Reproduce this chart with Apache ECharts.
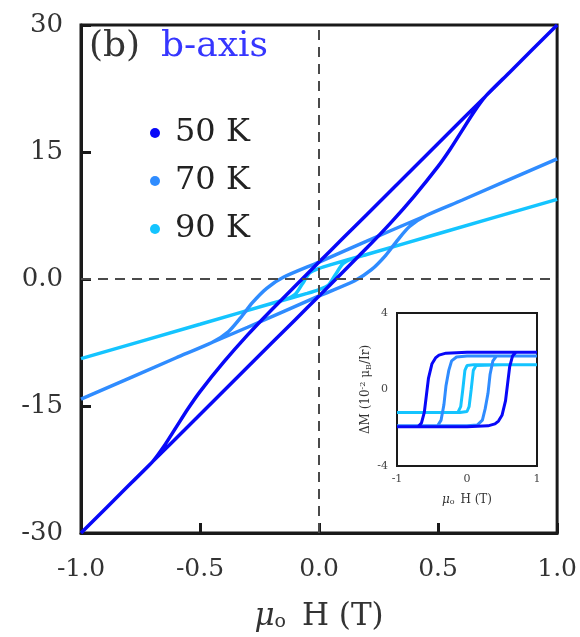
<!DOCTYPE html>
<html><head><meta charset="utf-8">
<script src="https://cdn.jsdelivr.net/npm/echarts@6/dist/echarts.min.js"></script>
<style>html,body{margin:0;padding:0;background:#fff}#c{width:580px;height:637px}</style>
</head><body><div id="c"></div>
<script>
// ---------- Data (main panel: M vs mu0H) ----------
const xTicks = [-1.0, -0.5, 0.0, 0.5, 1.0];
const yTicks = [-30, -15, 0, 15, 30];
const legendNames = ['50 K', '70 K', '90 K'];

// 50 K loop
const H50down = [1.0, 0.8, 0.7, 0.5, 0.3, 0.1, 0.0, -0.2, -0.3, -0.4, -0.5, -0.55, -0.6, -0.65, -0.7, -0.8, -1.0];
const M50down = [30, 24.4, 21.6, 16, 10.4, 4.8, 2.0, -3.65, -6.6, -9.8, -13.3, -15.3, -17.5, -19.7, -21.6, -24.4, -30];
const H50up   = [-1.0, -0.8, -0.7, -0.5, -0.3, -0.1, 0.0, 0.2, 0.3, 0.4, 0.5, 0.55, 0.6, 0.65, 0.7, 0.8, 1.0];
const M50up   = [-30, -24.4, -21.6, -16, -10.4, -4.8, -2.0, 3.65, 6.6, 9.8, 13.3, 15.3, 17.5, 19.7, 21.6, 24.4, 30];
// 70 K loop
const H70down = [1.0, 0.6, 0.3, 0.0, -0.15, -0.22, -0.28, -0.33, -0.38, -0.45, -0.6, -1.0];
const M70down = [14.2, 9.3, 5.7, 2.0, 0.2, -1.1, -2.8, -4.6, -6.2, -7.5, -9.3, -14.2];
const H70up   = [-1.0, -0.6, -0.3, 0.0, 0.15, 0.22, 0.28, 0.33, 0.38, 0.45, 0.6, 1.0];
const M70up   = [-14.2, -9.3, -5.7, -2.0, -0.2, 1.1, 2.8, 4.6, 6.2, 7.5, 9.3, 14.2];
// 90 K loop
const H90down = [1.0, 0.5, 0.2, 0.05, 0.0, -0.04, -0.07, -0.1, -0.14, -0.2, -0.5, -1.0];
const M90down = [9.4, 5.35, 2.9, 1.7, 1.25, 0.7, -0.57, -1.8, -2.4, -2.9, -5.35, -9.4];
const H90up   = [-1.0, -0.5, -0.2, -0.05, 0.0, 0.04, 0.07, 0.1, 0.14, 0.2, 0.5, 1.0];
const M90up   = [-9.4, -5.35, -2.9, -1.7, -1.25, -0.7, 0.57, 1.8, 2.4, 2.9, 5.35, 9.4];

// ---------- Inset: Delta M vs mu0H ----------
const insetXTicks = [-1, 0, 1];
const insetYTicks = [-4, 0, 4];
const iH50down = [1.0, 0.6, 0.0, -0.3, -0.4, -0.45, -0.5, -0.55, -0.58, -0.61, -0.65, -0.7, -1.0];
const iD50down = [1.95, 1.95, 1.95, 1.9, 1.8, 1.65, 1.35, 0.6, -0.3, -1.2, -1.75, -1.95, -1.95];
const iH50up   = [-1.0, -0.6, 0.0, 0.3, 0.4, 0.45, 0.5, 0.55, 0.58, 0.61, 0.65, 0.7, 1.0];
const iD50up   = [-1.95, -1.95, -1.95, -1.9, -1.8, -1.65, -1.35, -0.6, 0.3, 1.2, 1.75, 1.95, 1.95];
const iH70down = [1.0, 0.5, 0.0, -0.15, -0.22, -0.26, -0.3, -0.33, -0.37, -0.42, -1.0];
const iD70down = [1.75, 1.75, 1.75, 1.7, 1.5, 1.0, 0.2, -0.8, -1.6, -1.9, -1.9];
const iH70up   = [-1.0, -0.5, 0.0, 0.15, 0.22, 0.26, 0.3, 0.33, 0.37, 0.42, 1.0];
const iD70up   = [-1.9, -1.9, -1.9, -1.85, -1.6, -1.0, -0.2, 0.8, 1.5, 1.75, 1.75];
const iH90down = [1.0, 0.5, 0.1, 0.0, -0.03, -0.06, -0.09, -0.13, -0.5, -1.0];
const iD90down = [1.3, 1.3, 1.3, 1.25, 1.0, 0.0, -0.9, -1.2, -1.2, -1.2];
const iH90up   = [-1.0, -0.5, -0.1, 0.0, 0.03, 0.06, 0.09, 0.13, 0.5, 1.0];
const iD90up   = [-1.2, -1.2, -1.2, -1.15, -0.9, 0.0, 1.0, 1.25, 1.3, 1.3];

const colors = ['#0808f8', '#2f8cff', '#14c4ff'];
const SERIF = '"DejaVu Serif", "Liberation Serif", serif';

function zip(a, b) { return a.map((v, i) => [v, b[i]]); }
function loop(hd, md, hu, mu) { return zip(hd, md).concat(zip(hu, mu)); }

const chart = echarts.init(document.getElementById('c'), null, {renderer: 'canvas'});

const mainLoops = [
  loop(H50down, M50down, H50up, M50up),
  loop(H70down, M70down, H70up, M70up),
  loop(H90down, M90down, H90up, M90up)
];
const insetLoops = [
  loop(iH50down, iD50down, iH50up, iD50up),
  loop(iH70down, iD70down, iH70up, iD70up),
  loop(iH90down, iD90down, iH90up, iD90up)
];

const series = [];
[2, 1, 0].forEach(i => {
  series.push({
    name: legendNames[i], type: 'line', xAxisIndex: 0, yAxisIndex: 0,
    data: mainLoops[i], showSymbol: false, symbol: 'circle', symbolSize: 8, smooth: 0.25,
    lineStyle: {color: colors[i], width: 3.5}, itemStyle: {color: colors[i]},
    animation: false, z: 3
  });
});
series.push({
  name: 'ref', type: 'line', xAxisIndex: 0, yAxisIndex: 0, data: [],
  markLine: {
    silent: true, symbol: 'none', label: {show: false},
    lineStyle: {color: '#4a4a4a', width: 2, type: [10, 7]},
    data: [{xAxis: 0}, {yAxis: 0}]
  }, z: 2, animation: false
});
[2, 1, 0].forEach(i => {
  series.push({
    name: 'inset ' + legendNames[i], type: 'line', xAxisIndex: 1, yAxisIndex: 1,
    data: insetLoops[i], showSymbol: false,
    lineStyle: {color: colors[i], width: 3}, animation: false, z: 6
  });
});

const option = {
  backgroundColor: '#fff',
  animation: false,
  textStyle: {fontFamily: SERIF},
  legend: {
    data: legendNames.map((n, i) => ({name: n, icon: 'circle', itemStyle: {color: colors[i]}})),
    orient: 'vertical', left: 145, top: 112, itemWidth: 10, itemHeight: 10, itemGap: 16,
    textStyle: {fontFamily: SERIF, fontSize: 32, color: '#222', padding: [0, 0, 0, 10]},
    selectedMode: false
  },
  graphic: [
    {type: 'text', left: 89, top: 29, z: 10, style: {text: '(b)', font: '36px ' + SERIF, fill: '#333'}},
    {type: 'text', left: 161, top: 29, z: 10, style: {text: 'b-axis', font: '36px ' + SERIF, fill: '#3636ff'}},
    {type: 'rect', z: 4, shape: {x: 397, y: 313, width: 140, height: 153}, style: {fill: '#fff'}}
  ],
  grid: [
    {left: 81, right: 19, top: 25, bottom: 102, show: true, borderColor: '#1a1a1a', borderWidth: 3, backgroundColor: 'transparent'},
    {left: 397, top: 313, width: 140, height: 153, show: true, borderColor: '#1a1a1a', borderWidth: 2, z: 5}
  ],
  xAxis: [
    {
      type: 'value', gridIndex: 0, min: -1, max: 1, interval: 0.5,
      axisLine: {show: true, onZero: false, lineStyle: {color: '#1a1a1a', width: 3}},
      axisTick: {show: true, inside: true, length: 10, lineStyle: {color: '#1a1a1a', width: 3}},
      splitLine: {show: false},
      axisLabel: {fontFamily: SERIF, fontSize: 25, color: '#333', margin: 24,
        formatter: v => xTicks.some(t => Math.abs(t - v) < 1e-9) ? v.toFixed(1) : ''},
      name: '{mu|μ}{sub|o} H (T)', nameLocation: 'middle', nameGap: 68,
      nameTextStyle: {fontFamily: SERIF, fontSize: 31, color: '#333',
        rich: {mu: {fontFamily: SERIF, fontStyle: 'italic', fontSize: 31, color: '#333'},
               sub: {fontFamily: SERIF, fontSize: 19, color: '#333', verticalAlign: 'bottom', padding: [12, 6, 0, 0]}}}
    },
    {
      type: 'value', gridIndex: 1, min: -1, max: 1, interval: 0.5,
      axisLine: {show: true, onZero: false, lineStyle: {color: '#1a1a1a', width: 2}},
      axisTick: {show: true, inside: true, length: 5, lineStyle: {color: '#1a1a1a', width: 2}},
      splitLine: {show: false},
      axisLabel: {fontFamily: SERIF, fontSize: 11, color: '#444', margin: 8,
        formatter: v => insetXTicks.some(t => Math.abs(t - v) < 1e-9) ? String(v) : ''},
      name: '{mu|μ}{sub|o} H (T)', nameLocation: 'middle', nameGap: 27,
      nameTextStyle: {fontFamily: SERIF, fontSize: 12, color: '#333',
        rich: {mu: {fontFamily: SERIF, fontStyle: 'italic', fontSize: 12, color: '#333'},
               sub: {fontFamily: SERIF, fontSize: 8, color: '#333', verticalAlign: 'bottom', padding: [5, 2, 0, 0]}}}
    }
  ],
  yAxis: [
    {
      type: 'value', gridIndex: 0, min: -30, max: 30, interval: 15,
      axisLine: {show: true, onZero: false, lineStyle: {color: '#1a1a1a', width: 3}},
      axisTick: {show: true, inside: true, length: 10, lineStyle: {color: '#1a1a1a', width: 3}},
      splitLine: {show: false},
      axisLabel: {fontFamily: SERIF, fontSize: 26, color: '#333', margin: 18,
        formatter: v => yTicks.includes(v) ? (v === 0 ? '0.0' : String(v)) : ''}
    },
    {
      type: 'value', gridIndex: 1, min: -4, max: 4, interval: 2,
      axisLine: {show: true, onZero: false, lineStyle: {color: '#1a1a1a', width: 2}},
      axisTick: {show: true, inside: true, length: 5, lineStyle: {color: '#1a1a1a', width: 2}},
      splitLine: {show: false},
      axisLabel: {fontFamily: SERIF, fontSize: 11, color: '#444', margin: 9,
        formatter: v => insetYTicks.includes(v) ? String(v) : ''},
      name: 'ΔM (10{sup|-2} μ{sub|B}/Ir)', nameLocation: 'middle', nameGap: 24, nameRotate: 90,
      nameTextStyle: {fontFamily: SERIF, fontSize: 12, color: '#333',
        rich: {sup: {fontFamily: SERIF, fontSize: 8, color: '#333', verticalAlign: 'top', padding: [0, 0, 6, 0]},
               sub: {fontFamily: SERIF, fontSize: 8, color: '#333', verticalAlign: 'bottom', padding: [5, 0, 0, 0]}}}
    }
  ],
  series: series
};
chart.setOption(option);
</script>
</body></html>
